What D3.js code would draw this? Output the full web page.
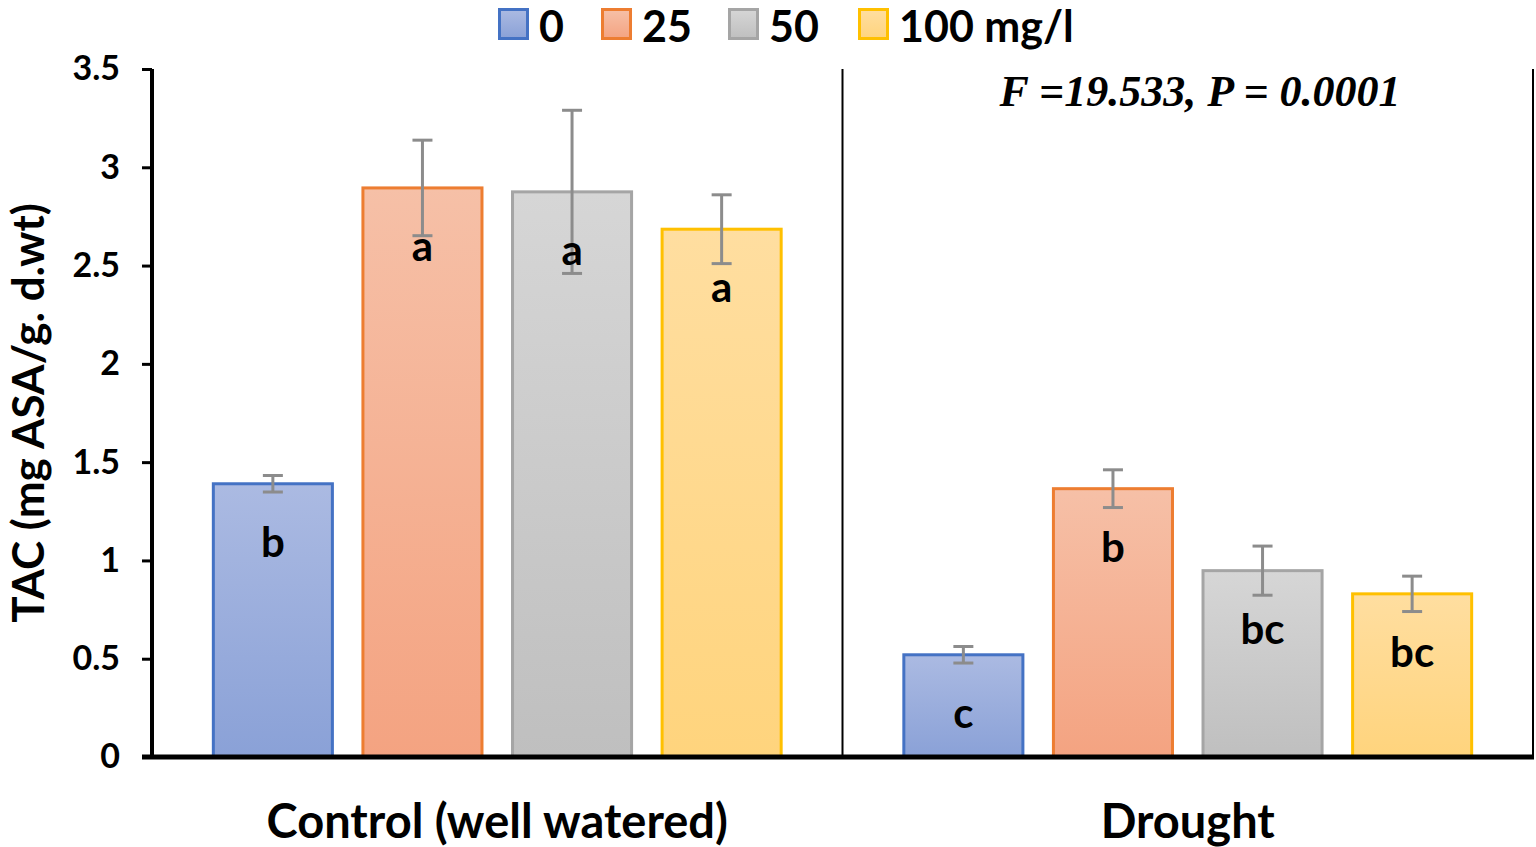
<!DOCTYPE html>
<html lang="en">
<head>
    <meta charset="UTF-8">
    <title>TAC chart</title>
    <script src="https://d3js.org/d3.v7.min.js"></script>
    <style>
        body { margin: 0; background: #fff; }
        text { font-family: Lato, "Open Sans", sans-serif; font-weight: bold; fill: #000; }
    </style>
</head>
<body>
    <script>
        // data
        var groups = ['Control (well watered)', 'Drought'];
        var doses = ['0', '25', '50', '100 mg/l'];
        var control_vals = [1.39, 2.895, 2.875, 2.685];
        var drought_vals = [0.52, 1.365, 0.948, 0.83];
        var control_err = [0.042, 0.243, 0.415, 0.175];
        var drought_err = [0.042, 0.096, 0.125, 0.09];
        var control_letters = ['b', 'a', 'a', 'a'];
        var drought_letters = ['c', 'b', 'bc', 'bc'];
        var y_ticks = [0, 0.5, 1, 1.5, 2, 2.5, 3, 3.5];

        var fills = [['#abbae2', '#8aa1d7'], ['#f6c0a7', '#f4a381'], ['#d6d6d6', '#bfbfbf'], ['#ffdea0', '#ffd47d']];
        var strokes = ['#4472c4', '#ed7d31', '#a5a5a5', '#ffc000'];

        var width = 1536, height = 847;
        var m_left = 152, m_right = 1533, m_top = 69, m_bottom = 757;

        var svg = d3.select('body').append('svg')
            .attr('width', width)
            .attr('height', height);

        var defs = svg.append('defs');
        fills.forEach(function (f, i) {
            var g = defs.append('linearGradient').attr('id', 'grad' + i)
                .attr('x1', 0).attr('y1', 0).attr('x2', 0).attr('y2', 1);
            g.append('stop').attr('offset', '0%').attr('stop-color', f[0]);
            g.append('stop').attr('offset', '100%').attr('stop-color', f[1]);
        });

        var x0 = d3.scaleBand().domain(groups).range([m_left, m_right]);
        var x1 = d3.scaleBand().domain(doses).range([0, x0.bandwidth()])
            .paddingInner(0.184).paddingOuter(0.4);
        var y = d3.scaleLinear().domain([0, 3.5]).range([m_bottom, m_top]);

        // rows of data per group
        var rows = [
            { group: groups[0], vals: control_vals, err: control_err, letters: control_letters },
            { group: groups[1], vals: drought_vals, err: drought_err, letters: drought_letters }
        ];

        // divider and right border
        svg.append('line')
            .attr('x1', x0(groups[1])).attr('x2', x0(groups[1]))
            .attr('y1', m_top).attr('y2', m_bottom)
            .attr('stroke', '#000').attr('stroke-width', 2);
        svg.append('line')
            .attr('x1', m_right).attr('x2', m_right)
            .attr('y1', m_top).attr('y2', m_bottom)
            .attr('stroke', '#000').attr('stroke-width', 2);

        var gg = svg.selectAll('g.grp')
            .data(rows)
            .enter()
            .append('g')
            .attr('class', 'grp')
            .attr('transform', function (d) { return 'translate(' + x0(d.group) + ',0)'; });

        gg.each(function (row) {
            var g = d3.select(this);
            var items = doses.map(function (dose, i) {
                return { dose: dose, i: i, v: row.vals[i], e: row.err[i], l: row.letters[i] };
            });
            g.selectAll('rect')
                .data(items)
                .enter()
                .append('rect')
                .attr('x', function (d) { return x1(d.dose) + 1.5; })
                .attr('y', function (d) { return y(d.v); })
                .attr('width', x1.bandwidth() - 3)
                .attr('height', function (d) { return m_bottom - y(d.v); })
                .attr('fill', function (d) { return 'url(#grad' + d.i + ')'; })
                .attr('stroke', function (d) { return strokes[d.i]; })
                .attr('stroke-width', 3);

            // error bars
            var eb = g.selectAll('g.err')
                .data(items)
                .enter()
                .append('g')
                .attr('class', 'err')
                .attr('stroke', '#8c8c8c')
                .attr('stroke-width', 3);
            eb.append('line')
                .attr('x1', function (d) { return x1(d.dose) + x1.bandwidth() / 2; })
                .attr('x2', function (d) { return x1(d.dose) + x1.bandwidth() / 2; })
                .attr('y1', function (d) { return y(d.v + d.e); })
                .attr('y2', function (d) { return y(d.v - d.e); });
            [1, -1].forEach(function (s) {
                eb.append('line')
                    .attr('x1', function (d) { return x1(d.dose) + x1.bandwidth() / 2 - 10; })
                    .attr('x2', function (d) { return x1(d.dose) + x1.bandwidth() / 2 + 10; })
                    .attr('y1', function (d) { return y(d.v + s * d.e); })
                    .attr('y2', function (d) { return y(d.v + s * d.e); });
            });

            // significance letters
            g.selectAll('text.letter')
                .data(items)
                .enter()
                .append('text')
                .attr('class', 'letter')
                .attr('x', function (d) { return x1(d.dose) + x1.bandwidth() / 2; })
                .attr('y', function (d) { return y(d.v) + 73; })
                .attr('text-anchor', 'middle')
                .style('font-size', '42px')
                .text(function (d) { return d.l; });
        });

        // y axis
        var yAxis = svg.append('g')
            .attr('transform', 'translate(' + m_left + ',0)')
            .call(d3.axisLeft(y).tickValues(y_ticks).tickSize(10).tickPadding(22).tickFormat(d3.format('')));
        yAxis.select('.domain').attr('stroke-width', 4).attr('d', 'M0,' + m_top + 'V' + m_bottom);
        yAxis.selectAll('.tick line').attr('stroke-width', 3);
        yAxis.selectAll('.tick text')
            .style('font-family', 'Lato, sans-serif')
            .style('font-weight', 'bold')
            .style('font-size', '34px');

        // x baseline
        svg.append('line')
            .attr('x1', m_left - 10).attr('x2', m_right + 1)
            .attr('y1', m_bottom).attr('y2', m_bottom)
            .attr('stroke', '#000').attr('stroke-width', 5);

        // category labels
        svg.selectAll('text.cat')
            .data(groups)
            .enter()
            .append('text')
            .attr('class', 'cat')
            .attr('x', function (d) { return x0(d) + x0.bandwidth() / 2; })
            .attr('y', 838)
            .attr('text-anchor', 'middle')
            .style('font-size', '47px')
            .text(function (d) { return d; });

        // y title
        svg.append('text')
            .attr('transform', 'translate(44,' + ((m_top + m_bottom) / 2) + ') rotate(-90)')
            .attr('text-anchor', 'middle')
            .style('font-size', '44px')
            .text('TAC (mg ASA/g. d.wt)');

        // stats annotation
        svg.append('text')
            .attr('x', 1200)
            .attr('y', 106)
            .attr('text-anchor', 'middle')
            .style('font-family', '"Liberation Serif", serif')
            .style('font-style', 'italic')
            .style('font-weight', 'bold')
            .style('font-size', '44px')
            .text('F =19.533, P = 0.0001');

        // legend
        var legend_x = [498, 601, 728, 858];
        var lg = svg.selectAll('g.leg')
            .data(doses)
            .enter()
            .append('g')
            .attr('class', 'leg')
            .attr('transform', function (d, i) { return 'translate(' + legend_x[i] + ',8)'; });
        lg.append('rect')
            .attr('x', 1.5).attr('y', 1.5)
            .attr('width', 28).attr('height', 29)
            .attr('fill', function (d, i) { return 'url(#grad' + i + ')'; })
            .attr('stroke', function (d, i) { return strokes[i]; })
            .attr('stroke-width', 3);
        lg.append('text')
            .attr('x', 41)
            .attr('y', 34)
            .style('font-size', '43px')
            .text(function (d) { return d; });
    </script>
</body>
</html>
